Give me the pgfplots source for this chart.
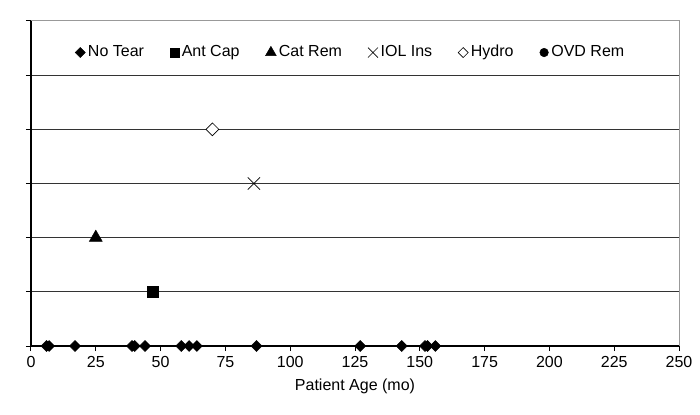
\documentclass[border=0pt]{standalone}
\usepackage{fontspec}
\setmainfont{Liberation Sans}
\usepackage{pgfplots}
\pgfplotsset{compat=1.18}
\begin{document}
\fontsize{12pt}{14pt}\selectfont
\begin{tikzpicture}
\begin{axis}[
  scale only axis, width=486pt, height=243.75pt,
  xmin=0, xmax=250, ymin=0, ymax=6,
  axis lines*=left,
  axis line style={black, line width=0.8pt},
  xtick={0,25,...,250},
  ytick={1,2,3,4,5}, yticklabels={},
  extra y ticks={0,6}, extra y tick labels={}, extra y tick style={grid=none},
  ymajorgrids, major grid style={black!80, line width=0.75pt},
  tick align=outside, major tick length=3.75pt,
  tick style={black, line width=0.75pt},
  /pgf/number format/assume math mode=true,
  ticklabel style={font=\fontsize{12pt}{14pt}\selectfont},
  xlabel={Patient Age (mo)},
  label style={font=\fontsize{12pt}{14pt}\selectfont},
  clip=false,
  legend columns=6,
  legend style={draw=none, fill=none, at={(0.494,0.903)}, anchor=center,
    font=\fontsize{12pt}{14pt}\selectfont,
    nodes={text height=0.75em, text depth=0.22em},
    /tikz/every even column/.append style={column sep=17.5pt},
    inner sep=0pt},
  legend image code/.code={\path[draw=none, fill=none] (0cm,-0.15cm) rectangle (0.24cm,0.15cm); \draw[#1, only marks] plot coordinates {(0.12cm,0cm)};},
]
\draw[gray!80, line width=0.75pt] (rel axis cs:0,1) -- (rel axis cs:1,1) -- (rel axis cs:1,0);

\addlegendimage{mark=square*, mark size=2.65pt, mark options={rotate=45, fill=black, draw=black}}
\addlegendentry{No Tear}
\addlegendimage{mark=square*, mark size=3.4pt, mark options={fill=black, draw=black}}
\addlegendentry{Ant Cap}
\addlegendimage{mark=triangle*, mark size=4.6pt, mark options={fill=black, draw=black}}
\addlegendentry{Cat Rem}
\addlegendimage{mark=x, mark size=5.3pt, mark options={draw=black, line width=0.5pt}}
\addlegendentry{IOL Ins}
\addlegendimage{mark=square*, mark size=2.65pt, mark options={rotate=45, fill=white, draw=black, line width=0.5pt}}
\addlegendentry{Hydro}
\addlegendimage{mark=*, mark size=3.2pt, mark options={fill=black, draw=black}}
\addlegendentry{OVD Rem}

\addplot[forget plot, only marks, mark=square*, mark size=2.9pt, mark options={rotate=45, fill=black, draw=black}]
coordinates {(6,0) (7,0) (17,0) (39,0) (40,0) (44,0) (58,0) (61,0) (64,0) (87,0) (127,0) (143,0) (152,0) (153,0) (156,0)};
\addplot[forget plot, only marks, mark=square*, mark size=3.9pt, mark options={fill=black, draw=black}]
coordinates {(47,1)};
\addplot[forget plot, only marks, mark=triangle*, mark size=5.6pt, mark options={fill=black, draw=black}]
coordinates {(25,2)};
\addplot[forget plot, only marks, mark=x, mark size=6.5pt, mark options={draw=black, line width=0.5pt}]
coordinates {(86,3)};
\addplot[forget plot, only marks, mark=square*, mark size=3.4pt, mark options={rotate=45, fill=white, draw=black, line width=0.5pt}]
coordinates {(70,4)};
\end{axis}
\path ([xshift=-23.25pt,yshift=-51.4pt]current axis.south west) rectangle ([xshift=15.75pt,yshift=15.75pt]current axis.north east);
\end{tikzpicture}
\end{document}
